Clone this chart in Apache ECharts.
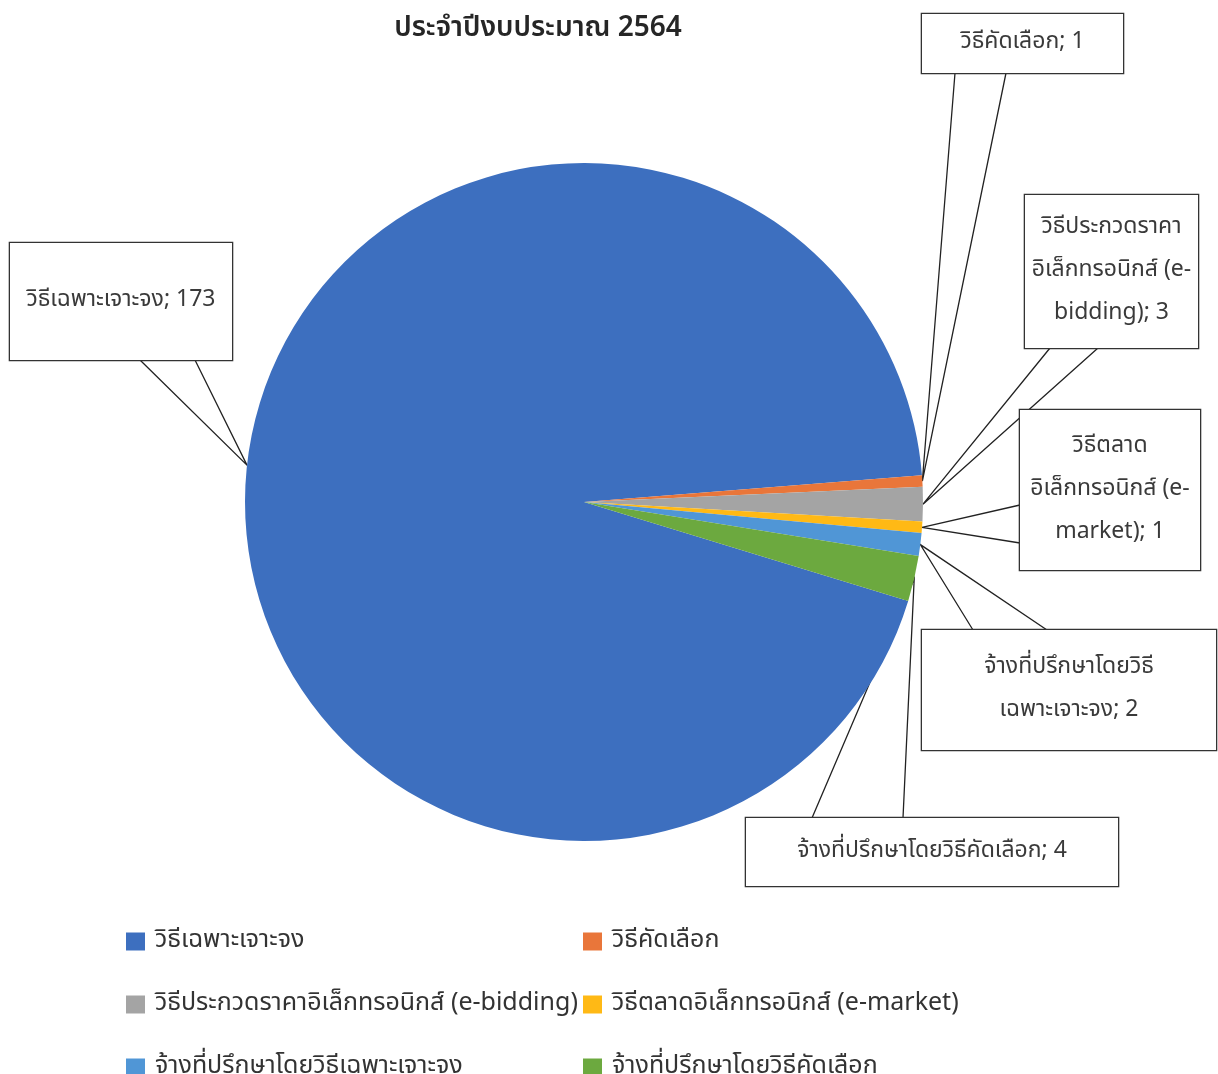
<!DOCTYPE html>
<html>
<head>
<meta charset="utf-8">
<script src="https://cdn.jsdelivr.net/npm/echarts@6/dist/echarts.min.js"></script>
<style>
html,body{margin:0;padding:0;background:#fff;}
#chart{width:1218px;height:1074px;}
</style>
</head>
<body>
<div id="chart"></div>
<script>
// ---- data ----
const titleText = 'ประจำปีงบประมาณ 2564';
const categories = [
  'วิธีเฉพาะเจาะจง',
  'วิธีคัดเลือก',
  'วิธีประกวดราคาอิเล็กทรอนิกส์ (e-bidding)',
  'วิธีตลาดอิเล็กทรอนิกส์ (e-market)',
  'จ้างที่ปรึกษาโดยวิธีเฉพาะเจาะจง',
  'จ้างที่ปรึกษาโดยวิธีคัดเลือก'
];
const values = [173, 1, 3, 1, 2, 4];
// where each callout label wraps (text after which a line break follows)
const labelBreaks = [
  [],
  [],
  ['วิธีประกวดราคา', 'อิเล็กทรอนิกส์ (e-'],
  ['วิธีตลาด', 'อิเล็กทรอนิกส์ (e-'],
  ['จ้างที่ปรึกษาโดยวิธี'],
  []
];

// ---- styling / layout ----
const colors = ['#3d6fbf', '#e9763a', '#a4a4a4', '#ffb915', '#5096d6', '#6ca93f'];
const FONT = "'Noto Sans Thai','Leelawadee UI',Tahoma,'Noto Sans',sans-serif";
const LINE_H = 43;
// callout boxes: centre, size, and the two base points of the wedge
const boxes = [
  {cx: 121, cy: 301.5, w: 222, h: 117, b1: [140, 360], b2: [195, 360]},
  {cx: 1022.5, cy: 43.5, w: 201, h: 59, b1: [955, 73], b2: [1006, 73]},
  {cx: 1111.5, cy: 271.5, w: 173, h: 153, b1: [1050, 348], b2: [1098, 348]},
  {cx: 1110, cy: 490, w: 180, h: 160, b1: [1020, 505], b2: [1020, 543]},
  {cx: 1069, cy: 690, w: 294, h: 120, b1: [973, 630], b2: [1047, 630]},
  {cx: 932, cy: 852, w: 372, h: 68, b1: [812, 818], b2: [903, 818]}
];

function labelText(i) {
  let s = categories[i] + '; ' + values[i];
  let out = '';
  let rest = s;
  labelBreaks[i].forEach(function (tok) {
    const k = rest.indexOf(tok);
    if (k === 0) {
      out += tok + '\n';
      rest = rest.slice(tok.length);
    }
  });
  return out + rest;
}

const pieData = categories.map(function (name, i) {
  const text = labelText(i);
  const nLines = text.split('\n').length;
  const b = boxes[i];
  const padV = Math.max(0, (b.h - nLines * LINE_H) / 2);
  return {
    name: name,
    value: values[i],
    label: {
      formatter: text,
      width: b.w,
      padding: [padV, 0, padV, 0]
    }
  };
});

const legendCommon = {
  orient: 'vertical', top: 929, height: 300, padding: 0,
  itemWidth: 19, itemHeight: 18, itemGap: 38, icon: 'rect',
  textStyle: {fontFamily: FONT, fontSize: 25, lineHeight: 22, color: '#333', padding: [0, 0, 0, 5]}
};

const chart = echarts.init(document.getElementById('chart'), null, {renderer: 'canvas'});
chart.setOption({
  backgroundColor: '#ffffff',
  animation: false,
  color: colors,
  title: {
    text: titleText,
    left: 533,
    textAlign: 'center',
    top: 11,
    textStyle: {fontFamily: FONT, fontSize: 28, fontWeight: 600, color: '#262626'}
  },
  legend: [
    Object.assign({}, legendCommon, {data: [categories[0], categories[2], categories[4]], left: 126}),
    Object.assign({}, legendCommon, {data: [categories[1], categories[3], categories[5]], left: 583})
  ],
  series: [{
    type: 'pie',
    center: [584, 502],
    radius: 339,
    startAngle: -17,
    clockwise: true,
    avoidLabelOverlap: false,
    itemStyle: {borderWidth: 0},
    emphasis: {disabled: true},
    label: {
      show: true,
      position: 'outside',
      fontFamily: FONT,
      fontSize: 23,
      lineHeight: LINE_H,
      color: '#3a3a3a',
      align: 'center',
      backgroundColor: '#ffffff',
      borderColor: '#333',
      borderWidth: 1.3
    },
    labelLine: {
      show: true,
      length: 10,
      length2: 10,
      smooth: false,
      lineStyle: {color: '#222', width: 1.3}
    },
    labelLayout: function (params) {
      const b = boxes[params.dataIndex];
      const pts = params.labelLinePoints;
      const res = {x: b.cx, y: b.cy, align: 'center', verticalAlign: 'middle'};
      if (pts && pts.length) {
        res.labelLinePoints = [b.b1, pts[0], b.b2];
      }
      return res;
    },
    data: pieData
  }]
});
</script>
</body>
</html>
